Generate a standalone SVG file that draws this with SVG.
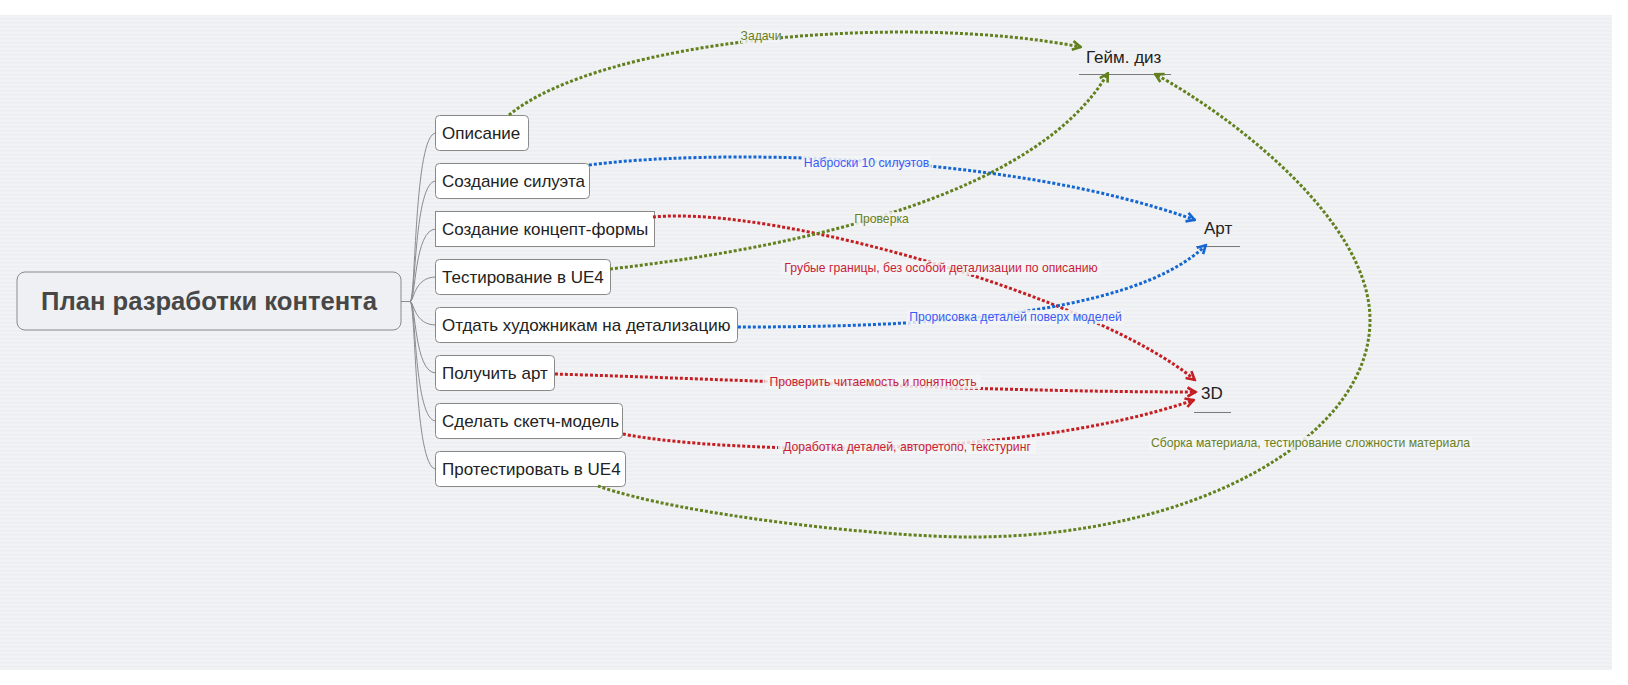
<svg xmlns="http://www.w3.org/2000/svg" width="1628" height="685" viewBox="0 0 1628 685">
  <defs>
    <pattern id="stripes" width="8" height="4" patternUnits="userSpaceOnUse">
      <rect width="8" height="4" fill="#eeeff2"/>
      <rect width="8" height="1.5" fill="#f2f3f5"/>
    </pattern>
    <marker id="arr-green" viewBox="0 0 12 12" refX="10.5" refY="6" markerWidth="12" markerHeight="12" markerUnits="userSpaceOnUse" orient="auto">
      <path d="M2,1.5 L10,6 L2,10.5" fill="none" stroke="#62801e" stroke-width="2.6"/>
    </marker>
    <marker id="arr-blue" viewBox="0 0 12 12" refX="10.5" refY="6" markerWidth="12" markerHeight="12" markerUnits="userSpaceOnUse" orient="auto">
      <path d="M2,1.5 L10,6 L2,10.5" fill="none" stroke="#1466d2" stroke-width="2.6"/>
    </marker>
    <marker id="arr-red" viewBox="0 0 12 12" refX="10.5" refY="6" markerWidth="12" markerHeight="12" markerUnits="userSpaceOnUse" orient="auto">
      <path d="M2,1.5 L10,6 L2,10.5" fill="none" stroke="#c41d22" stroke-width="2.6"/>
    </marker>
  </defs>
  <style>
    .topic rect { fill: #ffffff; stroke: #8a8a8a; stroke-width: 1; }
    .topic text { font-family: "Liberation Sans", Arial, sans-serif; font-size: 17px; fill: #222222; }
    .root rect { fill: #eff0f3; stroke: #8a8a8a; stroke-width: 1; }
    .root text { font-family: "Liberation Sans", Arial, sans-serif; font-size: 25.6px; font-weight: bold; fill: #474747; text-anchor: middle; }
    .float text { font-family: "Liberation Sans", Arial, sans-serif; font-size: 17px; fill: #222222; }
    .float line { stroke: #7a7a7a; stroke-width: 1.2; }
    .branch { fill: none; stroke: #8c8c8c; stroke-width: 1; }
    .rel { fill: none; stroke-width: 3; stroke-dasharray: 3 2; }
    .green { stroke: #62801e; }
    .blue { stroke: #1466d2; }
    .red { stroke: #c41d22; }
    .lbl-bg { fill: #f3f4f6; fill-opacity: 0.85; }
    .lbl { font-family: "Liberation Sans", Arial, sans-serif; font-size: 12.2px; text-anchor: middle; }
    .lbl.g { fill: #6a7f22; }
    .lbl.b { fill: #3a5cf5; }
    .lbl.r { fill: #c81e36; }
  </style>

  <!-- canvas -->
  <rect x="0" y="0" width="1628" height="685" fill="#ffffff"/>
  <rect x="0" y="15" width="1612" height="655" fill="url(#stripes)"/>

  <!-- tree branches from the central topic -->
  <g id="branches">
    <path class="branch" d="M401,301.5 H410 C416,301.5 414,133 436,133"/>
    <path class="branch" d="M401,301.5 H410 C416,301.5 414,181 436,181"/>
    <path class="branch" d="M401,301.5 H410 C416,301.5 414,229 436,229"/>
    <path class="branch" d="M401,301.5 H410 C414,301.5 414,277 436,277"/>
    <path class="branch" d="M401,301.5 H410 C414,301.5 414,325 436,325"/>
    <path class="branch" d="M401,301.5 H410 C416,301.5 414,373 436,373"/>
    <path class="branch" d="M401,301.5 H410 C416,301.5 414,421 436,421"/>
    <path class="branch" d="M401,301.5 H410 C416,301.5 414,469 436,469"/>
  </g>

  <!-- central topic -->
  <g id="root" class="root">
    <rect x="17" y="272" width="384" height="58" rx="8"/>
    <text x="209" y="310">План разработки контента</text>
  </g>

  <!-- subtopics -->
  <g id="t-opisanie" class="topic">
    <rect x="435.5" y="115.5" width="93" height="35" rx="4"/>
    <text x="442" y="139">Описание</text>
  </g>
  <g id="t-siluet" class="topic">
    <rect x="435.5" y="163.5" width="154" height="35" rx="4"/>
    <text x="442" y="187">Создание силуэта</text>
  </g>
  <g id="t-koncept" class="topic">
    <rect x="435.5" y="211.5" width="219" height="35"/>
    <text x="442" y="235">Создание концепт-формы</text>
  </g>
  <g id="t-test" class="topic">
    <rect x="435.5" y="259.5" width="175" height="35" rx="4"/>
    <text x="442" y="283">Тестирование в UE4</text>
  </g>
  <g id="t-otdat" class="topic">
    <rect x="435.5" y="307.5" width="302" height="35" rx="4"/>
    <text x="442" y="331">Отдать художникам на детализацию</text>
  </g>
  <g id="t-art" class="topic">
    <rect x="435.5" y="355.5" width="119" height="35" rx="4"/>
    <text x="442" y="379">Получить арт</text>
  </g>
  <g id="t-sketch" class="topic">
    <rect x="435.5" y="403.5" width="187" height="35" rx="4"/>
    <text x="442" y="427">Сделать скетч-модель</text>
  </g>
  <g id="t-protest" class="topic">
    <rect x="435.5" y="451.5" width="190" height="35" rx="4"/>
    <text x="442" y="475">Протестировать в UE4</text>
  </g>

  <!-- floating topics -->
  <g id="f-gamedesign" class="float">
    <text x="1086" y="63">Гейм. диз</text>
    <line x1="1079" y1="74.5" x2="1171" y2="74.5"/>
  </g>
  <g id="f-art" class="float">
    <text x="1204" y="234">Арт</text>
    <line x1="1196" y1="246.5" x2="1240" y2="246.5"/>
  </g>
  <g id="f-3d" class="float">
    <text x="1201" y="399">3D</text>
    <line x1="1194" y1="412.5" x2="1231" y2="412.5"/>
  </g>

  <!-- relationships -->
  <g id="connectors">
    <path class="rel green" d="M509,115 C600,40 900,12 1081,47" marker-end="url(#arr-green)"/>
    <path class="rel blue" d="M589,165 C700,150 1000,150 1195,220" marker-end="url(#arr-blue)"/>
    <path class="rel red" d="M653,217 C780,205 1100,300 1195,380" marker-end="url(#arr-red)"/>
    <path class="rel green" d="M610,269 C820,245 1040,190 1108,73" marker-end="url(#arr-green)"/>
    <path class="rel blue" d="M738,327 C900,327 1130,320 1206,245" marker-end="url(#arr-blue)"/>
    <path class="rel red" d="M555,374 C750,380 1000,392 1196,392" marker-end="url(#arr-red)"/>
    <path class="rel red" d="M623,434 C700,450 1000,466 1194,400" marker-end="url(#arr-red)"/>
    <path class="rel green" d="M598,486 C680,515 880,537 971,537 C1191,537 1370,440 1370,320 C1370,220 1230,115 1155,74" marker-end="url(#arr-green)"/>

    <rect class="lbl-bg" x="741" y="30" width="40" height="13"/>
    <text class="lbl g" x="761" y="40">Задачи</text>
    <rect class="lbl-bg" x="802" y="156" width="129" height="14"/>
    <text class="lbl b" x="866.5" y="167">Наброски 10 силуэтов</text>
    <rect class="lbl-bg" x="854" y="212" width="55" height="14"/>
    <text class="lbl g" x="881.5" y="223">Проверка</text>
    <rect class="lbl-bg" x="781" y="261" width="320" height="14"/>
    <text class="lbl r" x="941" y="272">Грубые границы, без особой детализации по описанию</text>
    <rect class="lbl-bg" x="907" y="310" width="217" height="14"/>
    <text class="lbl b" x="1015.5" y="321">Прорисовка деталей поверх моделей</text>
    <rect class="lbl-bg" x="765" y="375" width="216" height="14"/>
    <text class="lbl r" x="873" y="386">Проверить читаемость и понятность</text>
    <rect class="lbl-bg" x="778" y="440" width="258" height="14"/>
    <text class="lbl r" x="907" y="451">Доработка деталей, авторетопо, текстуринг</text>
    <rect class="lbl-bg" x="1149" y="436" width="323" height="14"/>
    <text class="lbl g" x="1310.5" y="447">Сборка материала, тестирование сложности материала</text>
  </g>
</svg>
